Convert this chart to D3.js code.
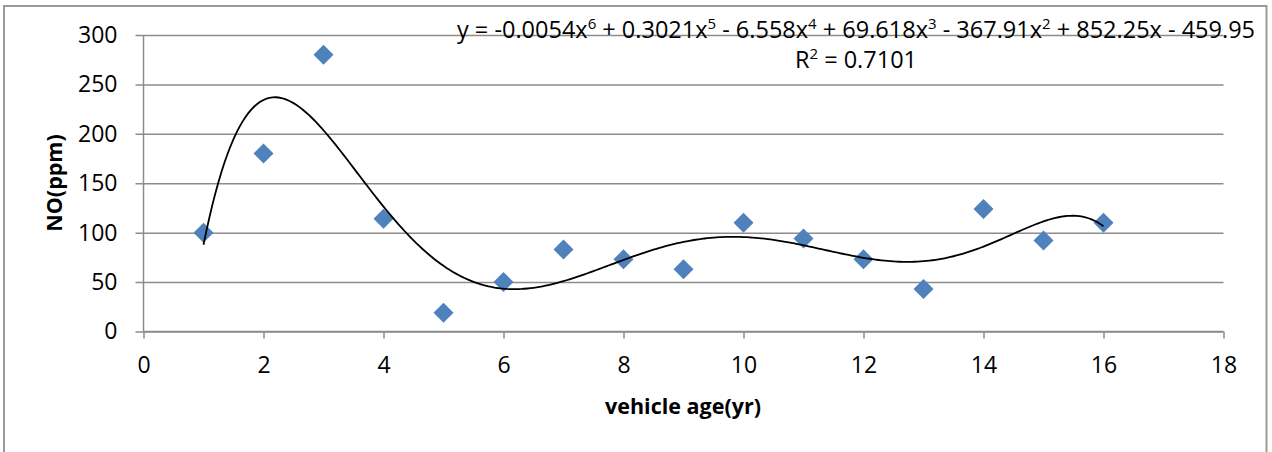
<!DOCTYPE html>
<html>
<head>
<meta charset="utf-8">
<script src="https://cdn.jsdelivr.net/npm/d3@7"></script>
<style>
  body { margin: 0; background: #fff; }
  text { font-family: "Open Sans", sans-serif; fill: #000; }
</style>
</head>
<body>
<script>
// vehicle age (yr) and measured NO (ppm)
const ages = [1, 2, 3, 4, 5, 6, 7, 8, 9, 10, 11, 12, 13, 14, 15, 16];
const noValues = [100, 180, 280, 114, 19, 50, 83, 73, 63, 110, 94, 73, 43, 124, 92, 110];
const xTicks = [0, 2, 4, 6, 8, 10, 12, 14, 16, 18];
const yTicks = [0, 50, 100, 150, 200, 250, 300];
const equationParts = [
    ["y = -0.0054x", "6"], [" + 0.3021x", "5"], [" - 6.558x", "4"],
    [" + 69.618x", "3"], [" - 367.91x", "2"], [" + 852.25x - 459.95", ""]
];
const rSquaredLabel = "0.7101";
const polyDegree = 6;

// least squares polynomial fit (same kind of trendline excel draws)
function polyFit(xs, ys, deg){
    const mid = (d3.min(xs) + d3.max(xs)) / 2;
    const half = (d3.max(xs) - d3.min(xs)) / 2;
    const n = deg + 1;
    const A = [];
    for (let i = 0; i < n; i++) {
        A.push(new Array(n + 1).fill(0));
    }
    xs.forEach(function(x, k){
        const t = (x - mid) / half;
        for (let i = 0; i < n; i++) {
            for (let j = 0; j < n; j++) A[i][j] += Math.pow(t, i + j);
            A[i][n] += ys[k] * Math.pow(t, i);
        }
    });
    // gaussian elimination
    for (let c = 0; c < n; c++) {
        let p = c;
        for (let r = c + 1; r < n; r++) if (Math.abs(A[r][c]) > Math.abs(A[p][c])) p = r;
        const tmp = A[c]; A[c] = A[p]; A[p] = tmp;
        for (let r = 0; r < n; r++) {
            if (r === c) continue;
            const f = A[r][c] / A[c][c];
            for (let k = c; k <= n; k++) A[r][k] -= f * A[c][k];
        }
    }
    const coef = A.map(function(row, i){ return row[n] / row[i]; });
    return function(x){
        const t = (x - mid) / half;
        let s = 0;
        for (let i = n - 1; i >= 0; i--) s = s * t + coef[i];
        return s;
    };
}

function main(){
    const canvasWidth = 1272;
    const canvasHeight = 452;
    const margin = {left: 143.5, top: 35, right: 48.5, bottom: 120.5};
    const fontSize = "23px";

    const svg = d3.select("body").append("svg")
        .attr("width", canvasWidth)
        .attr("height", canvasHeight);

    const width = canvasWidth - margin.left - margin.right;
    const height = canvasHeight - margin.top - margin.bottom;

    // chart border
    svg.append("rect")
        .attr("x", 4)
        .attr("y", 6)
        .attr("width", 1262.5)
        .attr("height", 460)
        .attr("fill", "none")
        .attr("stroke", "#9a9a9a")
        .attr("stroke-width", 2);

    let xScale = d3.scaleLinear().domain([0, 18]).range([0, width]);
    let yScale = d3.scaleLinear().domain([0, 300]).range([height, 0]);

    const container_g = svg.append("g")
        .attr("transform", "translate(" + margin.left + "," + margin.top + ")");

    // horizontal gridlines + y axis
    const yAxis = container_g.append("g")
        .call(d3.axisLeft(yScale).tickValues(yTicks).tickSize(-width).tickPadding(26));
    yAxis.select(".domain").remove();
    yAxis.selectAll(".tick line")
        .attr("x1", -8)
        .attr("stroke", "#8c8c8c")
        .attr("stroke-width", 1.5);
    yAxis.selectAll(".tick text")
        .attr("font-size", fontSize)
        .attr("font-family", "Open Sans")
        .attr("fill", "#000");

    const xAxis = container_g.append("g")
        .attr("transform", "translate(0," + height + ")")
        .call(d3.axisBottom(xScale).tickValues(xTicks).tickSize(7).tickPadding(18));
    xAxis.select(".domain")
        .attr("d", "M0,0H" + width)
        .attr("stroke", "#8c8c8c")
        .attr("stroke-width", 1.5);
    xAxis.selectAll(".tick line")
        .attr("stroke", "#8c8c8c")
        .attr("stroke-width", 1.5);
    xAxis.selectAll(".tick text")
        .attr("font-size", fontSize)
        .attr("font-family", "Open Sans")
        .attr("fill", "#000");

    container_g.append("line")
        .attr("x1", 0).attr("x2", 0)
        .attr("y1", 0).attr("y2", height)
        .attr("stroke", "#8c8c8c")
        .attr("stroke-width", 1.5);

    // data points as diamonds
    const points = ages.map(function(a, i){ return {x: a, y: noValues[i]}; });
    container_g.selectAll(".dot")
        .data(points)
        .enter().append("path")
        .attr("class", "dot")
        .attr("d", d3.symbol().type(d3.symbolSquare).size(200))
        .attr("transform", function(d){
            return "translate(" + xScale(d.x) + "," + yScale(d.y) + ") rotate(45)";
        })
        .attr("fill", "#4f81bd");

    // trendline
    const fit = polyFit(ages, noValues, polyDegree);
    const xs = d3.range(d3.min(ages), d3.max(ages) + 0.001, 0.05);
    container_g.append("path")
        .datum(xs)
        .attr("fill", "none")
        .attr("stroke", "#000")
        .attr("stroke-width", 1.8)
        .attr("d", d3.line()
            .x(function(d){ return xScale(d); })
            .y(function(d){ return yScale(fit(d)); }));

    // equation + r squared
    const eq = svg.append("text")
        .attr("x", 856)
        .attr("y", 38)
        .attr("text-anchor", "middle")
        .attr("font-size", "23.5px");
    let shift = 0;
    equationParts.forEach(function(p){
        eq.append("tspan").attr("dy", shift).text(p[0]);
        shift = 0;
        if (p[1] !== "") {
            eq.append("tspan").attr("font-size", "15px").attr("dy", -9).text(p[1]);
            shift = 9;
        }
    });

    const r2 = svg.append("text")
        .attr("x", 856)
        .attr("y", 68)
        .attr("text-anchor", "middle")
        .attr("font-size", "23.5px");
    r2.append("tspan").text("R");
    r2.append("tspan").attr("font-size", "15px").attr("dy", -9).text("2");
    r2.append("tspan").attr("dy", 9).text(" = " + rSquaredLabel);

    // axis titles
    svg.append("text")
        .attr("x", 683)
        .attr("y", 414)
        .attr("text-anchor", "middle")
        .attr("font-size", "21.5px")
        .attr("font-weight", "bold")
        .text("vehicle age(yr)");

    svg.append("text")
        .attr("transform", "translate(62,183) rotate(-90)")
        .attr("text-anchor", "middle")
        .attr("font-size", "21.5px")
        .attr("font-weight", "bold")
        .text("NO(ppm)");
}
main();
</script>
</body>
</html>
